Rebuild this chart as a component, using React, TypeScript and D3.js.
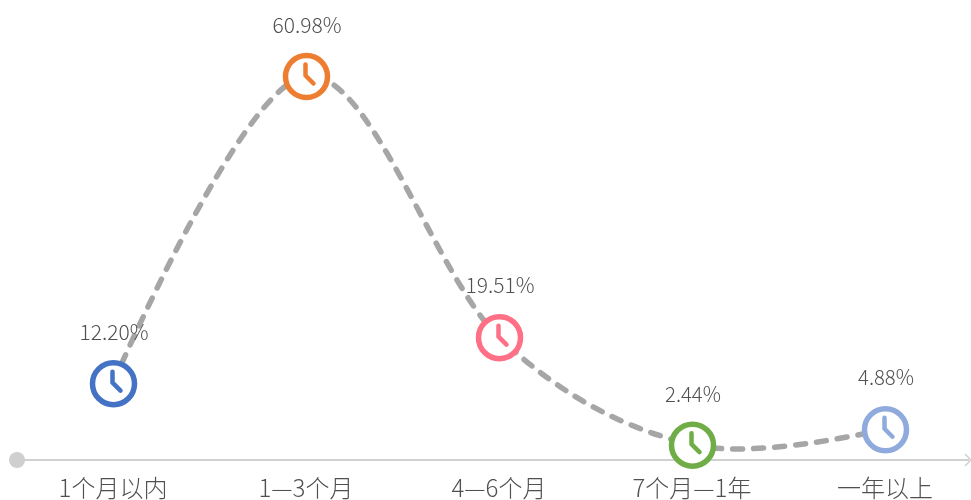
import React from "react";
import * as d3 from "d3";

const categories = ["1个月以内", "1—3个月", "4—6个月", "7个月—1年", "一年以上"];
const values = [12.2, 60.98, 19.51, 2.44, 4.88];
const labels = ["12.20%", "60.98%", "19.51%", "2.44%", "4.88%"];
const colors = ["#4472c4", "#ed7d31", "#ff6f85", "#70ad47", "#8faadc"];

const W = 971, H = 500;
const x = d3.scalePoint<string>().domain(categories).range([113, 885]);
const y = d3.scaleLinear().domain([0, 60.98]).range([460, 76]);
const line = d3.line<number>().x((_, i) => x(categories[i])!).y(d => y(d)).curve(d3.curveCardinal.tension(0));
const font = "'Noto Sans CJK SC', sans-serif";
const labelOffset = [43, 43, 44, 43, 44];
const R = 21;

export default function App() {
  return (
    <svg width={W} height={H} style={{ position: "fixed", left: 0, top: 0, display: "block" }} fontFamily={font}>
      <line x1={17} x2={969} y1={460} y2={460} stroke="#d0d0d0" strokeWidth={2} />
      <circle cx={17} cy={460} r={8} fill="#cfcfcf" />
      <path d="M965,454L971,460L965,466" fill="none" stroke="#d0d0d0" strokeWidth={1.5} />
      <path d={line(values)!} fill="none" stroke="#a6a6a6" strokeWidth={5.5} strokeDasharray="10 11" strokeLinecap="round" />
      {values.map((v, i) => {
        const cx = x(categories[i])!, cy = y(v);
        return (
          <g key={categories[i]}>
            <circle cx={cx + 0.5} cy={cy + 0.5} r={R} fill="#fff" stroke={colors[i]} strokeWidth={5.5} />
            <path d={`M${cx - 0.5},${cy - 11.5}V${cy - 0.5}L${cx + 7.5},${cy + 7.5}`} fill="none" stroke={colors[i]} strokeWidth={4.5} strokeLinecap="round" strokeLinejoin="round" />
            <text x={cx + 1} y={cy - labelOffset[i]} textAnchor="middle" fontSize={21} fontWeight={300} fill="#505050" textLength={labels[i].length === 6 ? 69 : 56} lengthAdjust="spacingAndGlyphs">{labels[i]}</text>
            <text x={cx} y={497} textAnchor="middle" fontSize={24} fontWeight={300} fill="#505050">{categories[i]}</text>
          </g>
        );
      })}
    </svg>
  );
}
